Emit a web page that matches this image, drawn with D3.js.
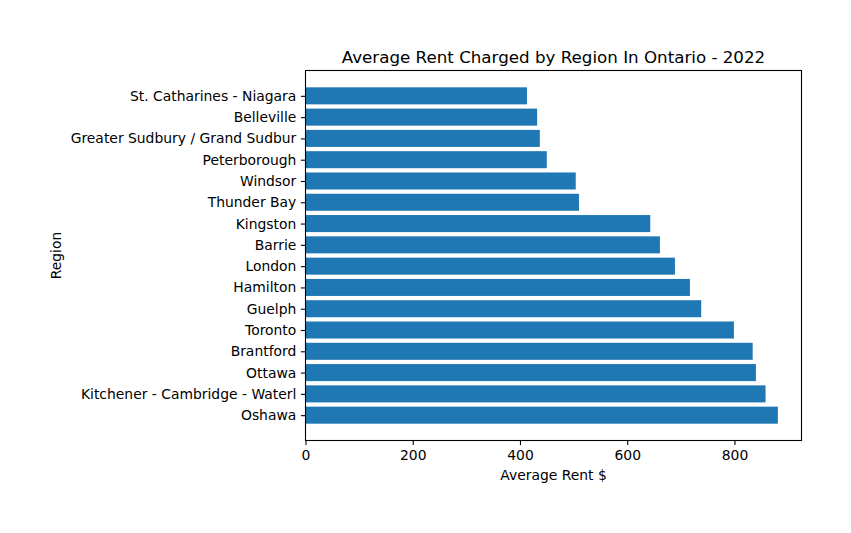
<!DOCTYPE html>
<html>
<head>
<meta charset="utf-8">
<script src="https://cdn.jsdelivr.net/npm/d3@7"></script>
<style>
  html, body { margin: 0; padding: 0; background: #fff; }
  svg { display: block; }
  text { font-family: "DejaVu Sans", sans-serif; fill: #000; }
</style>
</head>
<body>
<svg id="chart" width="851" height="533"></svg>
<script>
// Data (bottom to top, as drawn by barh)
const regions = [
  "Oshawa",
  "Kitchener - Cambridge - Waterl",
  "Ottawa",
  "Brantford",
  "Toronto",
  "Guelph",
  "Hamilton",
  "London",
  "Barrie",
  "Kingston",
  "Thunder Bay",
  "Windsor",
  "Peterborough",
  "Greater Sudbury / Grand Sudbur",
  "Belleville",
  "St. Catharines - Niagara"
];
const rents = [881, 858, 840, 834, 799, 738, 717, 689, 661, 643, 510, 504, 450, 437, 432, 413];
const xTicks = [0, 200, 400, 600, 800];
const titleText = "Average Rent Charged by Region In Ontario - 2022";
const xLabel = "Average Rent $";
const yLabel = "Region";

const svg = d3.select("#chart");
const L = 305.5, R = 801.5, T = 70.5, B = 440.5;
const barH = 0.8;
const n = regions.length;
const yLo = -barH / 2, yHi = n - 1 + barH / 2;
const yPad = (yHi - yLo) * 0.05;
const xMax = d3.max(rents) * 1.05;
const fs = "13.9px";

const x = d3.scaleLinear().domain([0, xMax]).range([L, R]);
const y = d3.scaleLinear().domain([yLo - yPad, yHi + yPad]).range([B, T]);

const color = "#1f77b4";

// bars
svg.append("g").selectAll("rect").data(rents).join("rect")
  .attr("x", x(0))
  .attr("y", (d, i) => y(i + barH / 2))
  .attr("width", d => x(d) - x(0))
  .attr("height", (d, i) => y(i - barH / 2) - y(i + barH / 2))
  .attr("fill", color);

// x axis
const xAxis = d3.axisBottom(x).tickValues(xTicks).tickSize(4.6).tickPadding(4.6).tickFormat(d3.format("d"));
const gx = svg.append("g").attr("transform", `translate(0,${B})`).call(xAxis);
gx.select(".domain").remove();
gx.selectAll("line").attr("stroke", "#000").attr("stroke-width", 1.1);
gx.selectAll("text").attr("font-size", fs).attr("font-family", "DejaVu Sans");

// y axis
const yAxis = d3.axisLeft(y).tickValues(d3.range(n)).tickSize(4.6).tickPadding(4.6).tickFormat(i => regions[i]);
const gy = svg.append("g").attr("transform", `translate(${L},0)`).call(yAxis);
gy.select(".domain").remove();
gy.selectAll("line").attr("stroke", "#000").attr("stroke-width", 1.1);
gy.selectAll("text").attr("font-size", fs).attr("font-family", "DejaVu Sans");

// frame
svg.append("rect").attr("x", L).attr("y", T).attr("width", R - L).attr("height", B - T)
  .attr("fill", "none").attr("stroke", "#000").attr("stroke-width", 1.1);

// title
svg.append("text").attr("x", (L + R) / 2).attr("y", 62.5).attr("text-anchor", "middle")
  .attr("font-size", "16.7px").text(titleText);

// x label
svg.append("text").attr("x", (L + R) / 2).attr("y", 480).attr("text-anchor", "middle")
  .attr("font-size", fs).text(xLabel);

// y label
svg.append("text").attr("transform", `translate(61,${(T + B) / 2}) rotate(-90)`).attr("text-anchor", "middle")
  .attr("font-size", fs).text(yLabel);
</script>
</body>
</html>
